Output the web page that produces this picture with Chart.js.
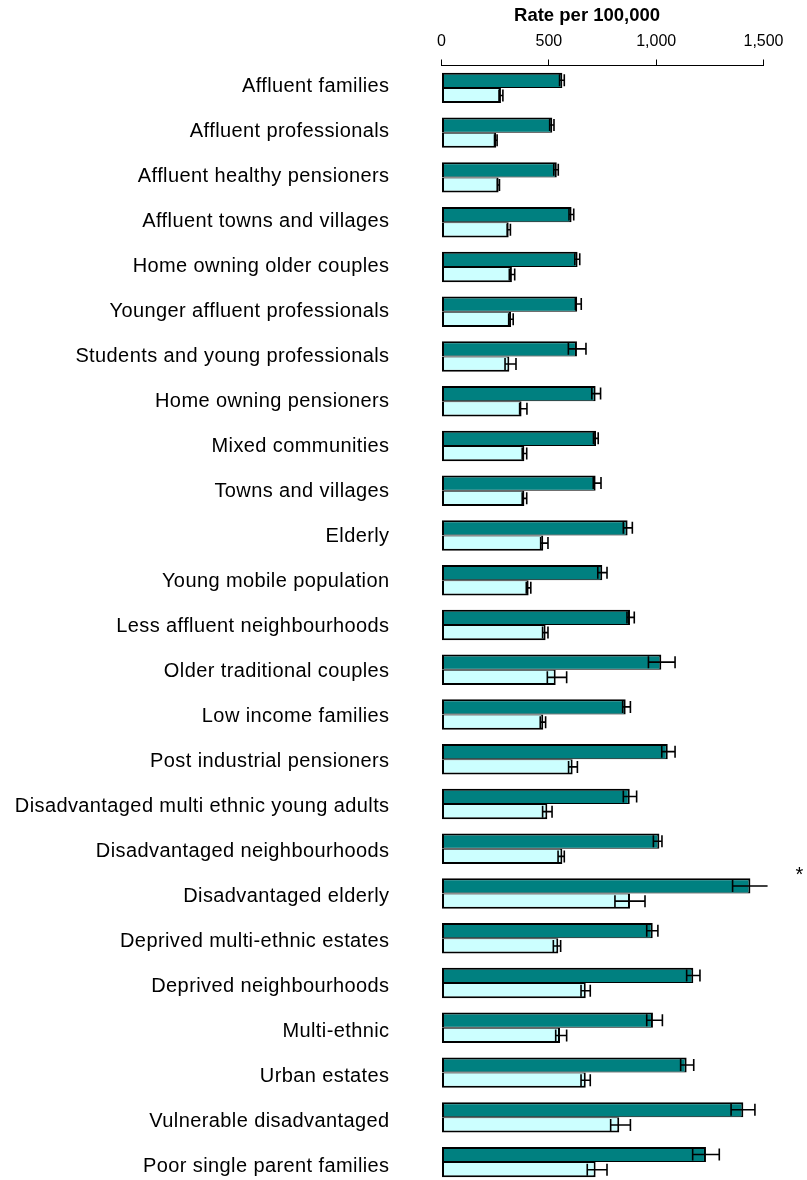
<!DOCTYPE html>
<html>
<head>
<meta charset="utf-8">
<script src="https://cdn.jsdelivr.net/npm/chart.js@4/dist/chart.umd.min.js"></script>
<style>
  html, body { margin: 0; padding: 0; background: #fff; overflow: hidden; }
  canvas { display: block; }
</style>
</head>
<body>
<canvas id="c" width="807" height="1186"></canvas>
<script>
const categories = [
  'Affluent families',
  'Affluent professionals',
  'Affluent healthy pensioners',
  'Affluent towns and villages',
  'Home owning older couples',
  'Younger affluent professionals',
  'Students and young professionals',
  'Home owning pensioners',
  'Mixed communities',
  'Towns and villages',
  'Elderly',
  'Young mobile population',
  'Less affluent neighbourhoods',
  'Older traditional couples',
  'Low income families',
  'Post industrial pensioners',
  'Disadvantaged multi ethnic young adults',
  'Disadvantaged neighbourhoods',
  'Disadvantaged elderly',
  'Deprived multi-ethnic estates',
  'Deprived neighbourhoods',
  'Multi-ethnic',
  'Urban estates',
  'Vulnerable disadvantaged',
  'Poor single parent families'
];

const seriesA = [563, 516, 537, 606, 634, 632, 631, 718, 720, 718, 867, 749, 878, 1024, 858, 1054, 877, 1015, 1439, 984, 1173, 985, 1142, 1406, 1232];
const seriesALower = [550, 504, 523, 594, 621, 624, 591, 700, 708, 707, 847, 728, 864, 964, 844, 1026, 847, 987, 1356, 956, 1142, 956, 1114, 1349, 1170];
const seriesAUpper = [572, 524, 544, 616, 644, 651, 673, 741, 730, 743, 889, 771, 898, 1088, 880, 1088, 909, 1027, 1519, 1008, 1204, 1029, 1175, 1460, 1294];

const seriesB = [277, 255, 266, 313, 328, 324, 316, 373, 386, 386, 474, 406, 485, 532, 474, 611, 493, 563, 878, 544, 672, 552, 672, 828, 718];
const seriesBLower = [268, 247, 260, 306, 316, 313, 296, 364, 376, 376, 462, 395, 471, 493, 460, 592, 471, 543, 808, 521, 650, 532, 650, 788, 679];
const seriesBUpper = [286, 259, 270, 321, 341, 334, 347, 398, 397, 397, 496, 416, 496, 583, 485, 633, 515, 572, 948, 555, 693, 583, 693, 880, 771];

const notes = ['', '', '', '', '', '', '', '', '', '', '', '', '', '', '', '', '', '', '*', '', '', '', '', '', ''];

const xTicks = [0, 500, 1000, 1500];
const axisTitle = 'Rate per 100,000';

const FONT = '"Liberation Sans", Arial, sans-serif';
const LABEL_MIN = -0.455;
const LABEL_MAX = 24.39;

const errorBars = {
  id: 'errorBars',
  afterDatasetsDraw(chart) {
    const ctx = chart.ctx;
    const xs = chart.scales.x;
    const sets = [[seriesALower, seriesAUpper], [seriesBLower, seriesBUpper]];
    ctx.save();
    ctx.strokeStyle = '#000';
    ctx.lineWidth = 1.6;
    sets.forEach((s, di) => {
      const meta = chart.getDatasetMeta(di);
      meta.data.forEach((bar, i) => {
        const y = bar.y;
        const x1 = xs.getPixelForValue(s[0][i]);
        const x2 = xs.getPixelForValue(s[1][i]);
        const h = 6;
        ctx.beginPath();
        ctx.moveTo(x1, y); ctx.lineTo(x2, y);
        ctx.moveTo(x1, y - h); ctx.lineTo(x1, y + h);
        if (x2 <= xs.right + 0.5) { ctx.moveTo(x2, y - h); ctx.lineTo(x2, y + h); }
        ctx.stroke();
      });
    });
    const ys = chart.scales.y;
    ctx.fillStyle = '#000';
    ctx.font = '20px ' + FONT;
    ctx.textAlign = 'center';
    ctx.textBaseline = 'middle';
    notes.forEach((n, i) => {
      if (!n) return;
      ctx.fillText(n, chart.chartArea.right + 36, ys.getPixelForValue(i) - 18);
    });
    ctx.restore();
  }
};

new Chart(document.getElementById('c'), {
  type: 'bar',
  data: {
    labels: categories,
    datasets: [
      {
        label: 'Series A',
        data: seriesA,
        backgroundColor: '#008080',
        borderColor: '#000',
        borderWidth: { top: 2, left: 2, right: 2, bottom: 1 },
        borderSkipped: false,
        barPercentage: 1.0,
        categoryPercentage: 0.68
      },
      {
        label: 'Series B',
        data: seriesB,
        backgroundColor: '#CCFFFF',
        borderColor: '#000',
        borderWidth: { top: 1, left: 2, right: 2, bottom: 2 },
        borderSkipped: false,
        barPercentage: 1.0,
        categoryPercentage: 0.68
      }
    ]
  },
  options: {
    indexAxis: 'y',
    responsive: false,
    animation: false,
    devicePixelRatio: 1,
    layout: { padding: { top: 0, right: 43.5, bottom: 1.5, left: 0 } },
    plugins: {
      legend: { display: false },
      tooltip: { enabled: false }
    },
    scales: {
      x: {
        position: 'top',
        min: 0,
        max: 1500,
        afterBuildTicks(scale) { scale.ticks = xTicks.map(v => ({ value: v })); },
        afterFit(scale) {
          scale.height = 65.5;
          scale.paddingLeft = 0; scale.paddingRight = 0;
        },
        ticks: {
          color: '#000',
          padding: 8,
          font: { family: FONT, size: 16 },
          callback: v => Number(v).toLocaleString('en-US')
        },
        grid: {
          display: true,
          drawOnChartArea: false,
          drawTicks: true,
          tickLength: 6,
          color: '#000',
          lineWidth: 1
        },
        border: { display: true, color: '#000', width: 1 },
        title: {
          display: true,
          text: axisTitle + '      ',
          color: '#000',
          font: { family: FONT, size: 18.5, weight: 'bold' },
          padding: { top: 5, bottom: 0 }
        }
      },
      y: {
        display: false
      },
      yLabels: {
        type: 'linear',
        position: 'left',
        reverse: true,
        offset: false,
        bounds: 'data',
        min: LABEL_MIN,
        max: LABEL_MAX,
        afterBuildTicks(scale) {
          scale.ticks = categories.map((c, i) => ({ value: i }));
          scale.min = LABEL_MIN;
          scale.max = LABEL_MAX;
        },
        afterFit(scale) {
          scale.width = 441.5;
          scale.paddingTop = 0; scale.paddingBottom = 0;
          if (!scale._spaced) {
            const orig = scale.drawLabels;
            scale.drawLabels = function (area) {
              const c = this.ctx;
              const prev = c.letterSpacing;
              c.letterSpacing = '0.4px';
              orig.call(this, area);
              c.letterSpacing = prev || '0px';
            };
            scale._spaced = true;
          }
        },
        ticks: {
          color: '#000',
          padding: 52,
          autoSkip: false,
          font: { family: FONT, size: 20 },
          callback: v => categories[v]
        },
        grid: { display: false, drawTicks: false, offset: false },
        border: { display: false }
      }
    }
  },
  plugins: [errorBars]
});
</script>
</body>
</html>
